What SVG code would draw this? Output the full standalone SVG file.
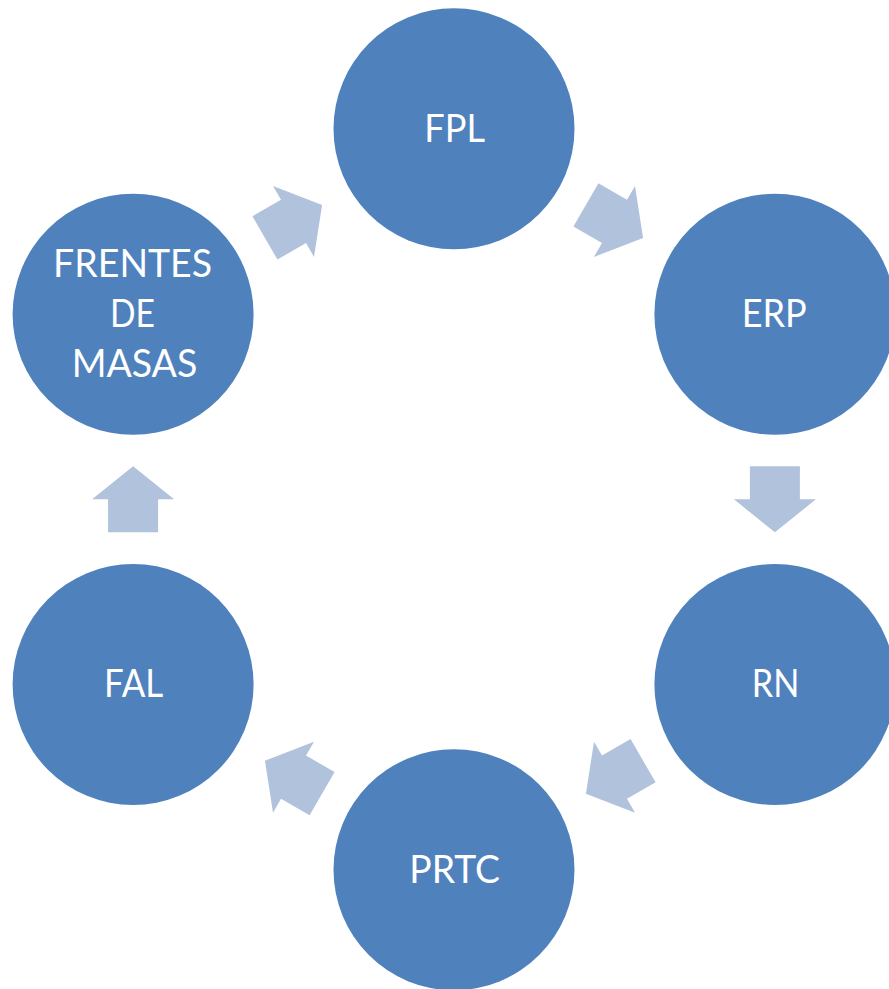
<svg xmlns="http://www.w3.org/2000/svg" width="889" height="989" viewBox="0 0 889 989">
<defs>
<style>
.node{fill:#4F81BD;}
.lbl{fill:#FFFFFF;font-family:Lato,"Liberation Sans","DejaVu Sans",sans-serif;font-size:39.5px;text-anchor:middle;}
.arr{fill:#B1C2DD;}
</style>
<polygon id="arrow" points="-33,-25 0,-25 0,-41 33,0 0,41 0,25 -33,25"/>
</defs>
<rect width="889" height="989" fill="#FFFFFF"/>
<g id="connectors">
<use href="#arrow" class="arr" transform="translate(293.5,221.4) rotate(-30)"/>
<use href="#arrow" class="arr" transform="translate(614.5,221.4) rotate(30)"/>
<use href="#arrow" class="arr" transform="translate(774.9,499.3) rotate(90)"/>
<use href="#arrow" class="arr" transform="translate(614.5,777.2) rotate(150)"/>
<use href="#arrow" class="arr" transform="translate(293.5,777.2) rotate(210)"/>
<use href="#arrow" class="arr" transform="translate(133.1,499.3) rotate(270)"/>
</g>
<g id="node-fpl">
<circle class="node" cx="454" cy="128.8" r="120.5"/>
<text class="lbl" x="454.6" y="141.5" textLength="60.7" lengthAdjust="spacingAndGlyphs">FPL</text>
</g>
<g id="node-erp">
<circle class="node" cx="774.9" cy="314.3" r="120.5"/>
<text class="lbl" x="774.2" y="326.8" textLength="65" lengthAdjust="spacingAndGlyphs">ERP</text>
</g>
<g id="node-rn">
<circle class="node" cx="774.9" cy="684.5" r="120.5"/>
<text class="lbl" x="775.5" y="696.7" textLength="47.6" lengthAdjust="spacingAndGlyphs">RN</text>
</g>
<g id="node-prtc">
<circle class="node" cx="454" cy="869.8" r="120.5"/>
<text class="lbl" x="454.6" y="882.6" textLength="90.7" lengthAdjust="spacingAndGlyphs">PRTC</text>
</g>
<g id="node-fal">
<circle class="node" cx="133.1" cy="684.5" r="120.5"/>
<text class="lbl" x="133.6" y="696.7" textLength="59.3" lengthAdjust="spacingAndGlyphs">FAL</text>
</g>
<g id="node-frentes">
<circle class="node" cx="133.1" cy="314.3" r="120.5"/>
<text class="lbl" x="132.6" y="276.7" textLength="159" lengthAdjust="spacingAndGlyphs">FRENTES</text>
<text class="lbl" x="132.5" y="326.7" textLength="45" lengthAdjust="spacingAndGlyphs">DE</text>
<text class="lbl" x="134.5" y="376.7" textLength="125.6" lengthAdjust="spacingAndGlyphs">MASAS</text>
</g>
</svg>
